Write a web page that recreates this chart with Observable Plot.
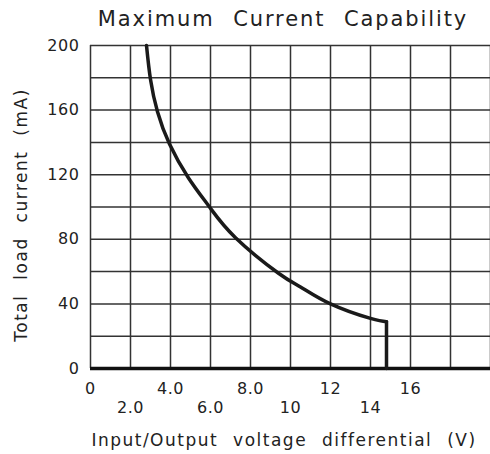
<!DOCTYPE html>
<html>
<head>
<meta charset="utf-8">
<script src="https://cdn.jsdelivr.net/npm/d3@7"></script>
<script src="https://cdn.jsdelivr.net/npm/@observablehq/plot@0.6"></script>
<style>
  body { margin: 0; background: #fff; position: relative; width: 490px; height: 454px; overflow: hidden; }
  #title { width: 490px; height: 34px; box-sizing: border-box; padding-left: 76px; text-align: center;
           font-family: "DejaVu Sans", sans-serif; font-size: 21px; line-height: 38px; letter-spacing: 1.9px; word-spacing: 10px; color: #222; white-space: nowrap; }
  .axtitle { position: absolute; white-space: nowrap; font-family: "DejaVu Sans", sans-serif; font-size: 17px; color: #222;
             letter-spacing: 1.5px; word-spacing: 8px; transform-origin: center; }
  #ytitle { left: 21px; top: 215px; transform: translate(-50%, -50%) rotate(-90deg); }
  #xtitle { left: 284px; top: 440px; transform: translate(-50%, -50%); }
  #chart svg text { letter-spacing: 0.6px; }
</style>
</head>
<body>
<div id="title">Maximum Current Capability</div>
<div id="chart"></div>
<div id="ytitle" class="axtitle"></div>
<div id="xtitle" class="axtitle"></div>
<script>
// Curve: voltage differential (V) vs maximum load current (mA)
const curveV = [2.8, 3.0, 3.35, 3.95, 4.9, 5.95, 7.25, 9.4, 10.5, 12, 14, 14.8];
const curveI = [200, 179, 159, 139, 118, 100, 81, 59, 50.5, 40, 31, 29];
// Vertical drop at the cutoff
const dropV = [14.8, 14.8];
const dropI = [29, 0];

const xGrid = [0, 2, 4, 6, 8, 10, 12, 14, 16, 18, 20];
const yGrid = [0, 20, 40, 60, 80, 100, 120, 140, 160, 180, 200];
const xTicksUpper = [0, 4, 8, 12, 16];
const xLabelsUpper = ["0", "4.0", "8.0", "12", "16"];
const xTicksLower = [2, 6, 10, 14];
const xLabelsLower = ["2.0", "6.0", "10", "14"];
const yTicks = [0, 40, 80, 120, 160, 200];
const yLabels = ["0", "40", "80", "120", "160", "200"];
const xTitle = "Input/Output voltage differential (V)";
const yTitle = "Total load current (mA)";

document.getElementById("xtitle").textContent = xTitle;
document.getElementById("ytitle").textContent = yTitle;

const curve = curveV.map((v, i) => ({v, i: curveI[i]}));
const drop = dropV.map((v, i) => ({v, i: dropI[i]}));

const chart = Plot.plot({
  width: 490,
  height: 420,
  marginTop: 11,
  marginBottom: 86,
  marginLeft: 90,
  marginRight: 0,
  style: {fontFamily: "DejaVu Sans, sans-serif", fontSize: "16px", color: "#222", background: "#fff"},
  x: {domain: [0, 20], axis: null},
  y: {domain: [0, 200], axis: null},
  marks: [
    Plot.ruleX(xGrid, {stroke: "#333", strokeWidth: 1.5}),
    Plot.ruleY(yGrid, {stroke: "#333", strokeWidth: 1.5}),
    Plot.ruleY([0], {stroke: "#111", strokeWidth: 3.5}),
    Plot.line(curve, {x: "v", y: "i", curve: "natural", stroke: "#1a1a1a", strokeWidth: 3.5}),
    Plot.line(drop, {x: "v", y: "i", stroke: "#1a1a1a", strokeWidth: 3.5}),
    Plot.text(xTicksUpper, {x: d => d, text: (d, k) => xLabelsUpper[k], frameAnchor: "bottom", dy: 25, fill: "#222", fontSize: 16}),
    Plot.text(xTicksLower, {x: d => d, text: (d, k) => xLabelsLower[k], frameAnchor: "bottom", dy: 44, fill: "#222", fontSize: 16}),
    Plot.text(yTicks, {y: d => d, text: (d, k) => yLabels[k], frameAnchor: "left", textAnchor: "end", dx: -11, fill: "#222", fontSize: 16})
  ]
});
document.getElementById("chart").appendChild(chart);
</script>
</body>
</html>
